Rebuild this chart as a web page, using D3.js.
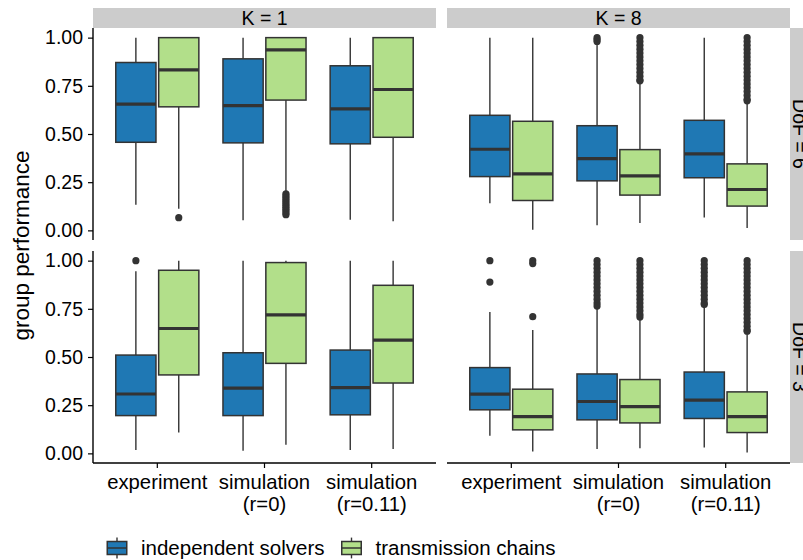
<!DOCTYPE html>
<html>
<head>
<meta charset="utf-8">
<script src="https://cdn.jsdelivr.net/npm/d3@7"></script>
<style>
  body { margin: 0; background: #fff; }
  text { font-family: "Liberation Sans", Arial, Helvetica, sans-serif; fill: #000; }
</style>
</head>
<body>
<div id="chart"></div>
<script>
// ---- data ----
var categories = ["experiment", "simulation\n(r=0)", "simulation\n(r=0.11)"];
var groups = ["independent solvers", "transmission chains"];
var colLabels = ["K = 1", "K = 8"];
var rowLabels = ["DoF = 6", "DoF = 3"];
var yTicks = [0, 0.25, 0.5, 0.75, 1];

// box stats: [lower whisker, q1, median, q3, upper whisker], one per category
var indepDof6K1 = [[0.133, 0.457, 0.655, 0.871, 1.0], [0.052, 0.454, 0.647, 0.890, 1.0], [0.055, 0.449, 0.630, 0.854, 1.0]];
var chainDof6K1 = [[0.112, 0.641, 0.833, 1.0, 1.0], [0.198, 0.676, 0.936, 1.0, 1.0], [0.047, 0.483, 0.731, 1.0, 1.0]];
var indepDof6K8 = [[0.141, 0.279, 0.421, 0.597, 1.0], [0.026, 0.257, 0.372, 0.543, 0.974], [0.067, 0.273, 0.397, 0.571, 1.0]];
var chainDof6K8 = [[0.003, 0.155, 0.293, 0.566, 1.0], [0.038, 0.183, 0.283, 0.419, 0.759], [0.012, 0.126, 0.212, 0.345, 0.660]];
var indepDof3K1 = [[0.017, 0.196, 0.308, 0.510, 0.945], [0.014, 0.196, 0.338, 0.522, 1.0], [0.017, 0.200, 0.341, 0.536, 1.0]];
var chainDof3K1 = [[0.108, 0.407, 0.648, 0.950, 1.0], [0.045, 0.467, 0.719, 0.990, 1.0], [0.022, 0.365, 0.588, 0.872, 1.0]];
var indepDof3K8 = [[0.091, 0.226, 0.307, 0.445, 0.734], [0.022, 0.174, 0.269, 0.412, 0.750], [0.031, 0.181, 0.276, 0.422, 0.760]];
var chainDof3K8 = [[0.010, 0.122, 0.191, 0.333, 0.640], [0.027, 0.158, 0.243, 0.383, 0.700], [0.005, 0.108, 0.191, 0.319, 0.620]];

// outliers, one list per category
var outIndepDof6K1 = [[], [], []];
var outChainDof6K1 = [[0.066], [0.19, 0.18, 0.17, 0.16, 0.15, 0.14, 0.13, 0.12, 0.11, 0.10, 0.09, 0.081], []];
var outIndepDof6K8 = [[], [1.0, 0.99, 0.98], []];
var outChainDof6K8 = [[], [1.0, 0.98, 0.96, 0.94, 0.92, 0.90, 0.88, 0.86, 0.84, 0.82, 0.80, 0.78, 0.776],
                      [1.0, 0.98, 0.96, 0.94, 0.92, 0.90, 0.88, 0.86, 0.84, 0.82, 0.80, 0.78, 0.76, 0.74, 0.72, 0.70, 0.68, 0.672]];
var outIndepDof3K1 = [[1.0], [], []];
var outChainDof3K1 = [[], [], []];
var outIndepDof3K8 = [[1.0, 0.889],
                      [1.0, 0.98, 0.96, 0.94, 0.92, 0.90, 0.88, 0.86, 0.84, 0.82, 0.80, 0.78, 0.764],
                      [1.0, 0.98, 0.96, 0.94, 0.92, 0.90, 0.88, 0.86, 0.84, 0.82, 0.80, 0.78, 0.772]];
var outChainDof3K8 = [[1.0, 0.985, 0.709],
                      [1.0, 0.98, 0.96, 0.94, 0.92, 0.90, 0.88, 0.86, 0.84, 0.82, 0.80, 0.78, 0.76, 0.74, 0.72, 0.707],
                      [1.0, 0.98, 0.96, 0.94, 0.92, 0.90, 0.88, 0.86, 0.84, 0.82, 0.80, 0.78, 0.76, 0.74, 0.72, 0.70, 0.68, 0.66, 0.64, 0.634]];

// panels[row][col]
var panels = [
    [{stats: [indepDof6K1, chainDof6K1], out: [outIndepDof6K1, outChainDof6K1]},
     {stats: [indepDof6K8, chainDof6K8], out: [outIndepDof6K8, outChainDof6K8]}],
    [{stats: [indepDof3K1, chainDof3K1], out: [outIndepDof3K1, outChainDof3K1]},
     {stats: [indepDof3K8, chainDof3K8], out: [outIndepDof3K8, outChainDof3K8]}]
];

var fills = ["#1f78b4", "#b2df8a"];
var lineCol = "#333333";

var width = 803, height = 560;
var panelX = [93, 447], panelY = [28, 251];
var panelW = 343, panelH = 212, stripH = 20;

var svg = d3.select("#chart").append("svg")
    .attr("width", width).attr("height", height);

var x = d3.scaleBand().domain(categories).range([0, panelW])
    .paddingInner(0).paddingOuter(0.1);
var y = d3.scaleLinear().domain([-0.05, 1.05]).range([panelH, 0]);
var step = x.step(),
    boxW = step * 0.375,
    dodge = step * 0.2;

panels.forEach(function(row, ri) {
    row.forEach(function(p, ci) {
        var g = svg.append("g")
            .attr("transform", "translate(" + panelX[ci] + "," + panelY[ri] + ")");

        p.stats.forEach(function(series, gi) {
            series.forEach(function(s, k) {
                var cx = x(categories[k]) + step / 2 + (gi === 0 ? -dodge : dodge);
                var bg = g.append("g");
                // whiskers
                bg.append("line")
                    .attr("x1", cx).attr("x2", cx)
                    .attr("y1", y(s[0])).attr("y2", y(s[1]))
                    .attr("stroke", lineCol).attr("stroke-width", 1.4);
                bg.append("line")
                    .attr("x1", cx).attr("x2", cx)
                    .attr("y1", y(s[3])).attr("y2", y(s[4]))
                    .attr("stroke", lineCol).attr("stroke-width", 1.4);
                bg.append("rect")
                    .attr("x", cx - boxW / 2).attr("width", boxW)
                    .attr("y", y(s[3])).attr("height", y(s[1]) - y(s[3]))
                    .attr("fill", fills[gi])
                    .attr("stroke", lineCol).attr("stroke-width", 1.5);
                bg.append("line")
                    .attr("x1", cx - boxW / 2).attr("x2", cx + boxW / 2)
                    .attr("y1", y(s[2])).attr("y2", y(s[2]))
                    .attr("stroke", lineCol).attr("stroke-width", 3.2);
                // outliers
                bg.selectAll("circle").data(p.out[gi][k]).enter()
                    .append("circle")
                    .attr("cx", cx).attr("cy", function(d) { return y(d); })
                    .attr("r", 3.6)
                    .attr("fill", lineCol);
            });
        });

        // y axis on the left column only
        if (ci === 0) {
            var ya = g.append("g")
                .call(d3.axisLeft(y).tickValues(yTicks).tickSize(5).tickPadding(5)
                    .tickFormat(d3.format(".2f")));
            ya.select(".domain").attr("stroke", "#000").attr("stroke-width", 1.4)
                .attr("d", "M0,0V" + panelH);
            ya.selectAll(".tick line").attr("stroke", "#000").attr("stroke-width", 1.2);
            ya.selectAll(".tick text").attr("font-size", "19.5px")
                .style("font-family", "Liberation Sans, Arial, sans-serif").attr("fill", "#000");
        }
        // x axis on the bottom row only
        if (ri === 1) {
            var xa = g.append("g").attr("transform", "translate(0," + panelH + ")")
                .call(d3.axisBottom(x).tickSize(5).tickFormat(""));
            xa.select(".domain").attr("stroke", "#000").attr("stroke-width", 1.4)
                .attr("d", "M0,0H" + panelW);
            xa.selectAll(".tick line").attr("stroke", "#000").attr("stroke-width", 1.2);
            xa.selectAll(".tick").each(function(d) {
                var lines = d.split("\n");
                var t = d3.select(this).append("text")
                    .attr("text-anchor", "middle")
                    .attr("font-size", "20.3px")
                    .attr("fill", "#000");
                lines.forEach(function(l, li) {
                    t.append("tspan").attr("x", 0).attr("y", 26 + li * 22).text(l);
                });
            });
        }
        // top strips
        if (ri === 0) {
            svg.append("rect")
                .attr("x", panelX[ci]).attr("y", panelY[0] - stripH)
                .attr("width", panelW).attr("height", stripH)
                .attr("fill", "#cccccc");
            svg.append("text")
                .attr("x", panelX[ci] + panelW / 2).attr("y", panelY[0] - stripH / 2)
                .attr("dy", "0.36em").attr("text-anchor", "middle")
                .attr("font-size", "19.5px").attr("fill", "#1a1a1a")
                .text(colLabels[ci]);
        }
        // right strips (cut by the page edge, as in the original)
        if (ci === 1) {
            var sx = panelX[1] + panelW;
            svg.append("rect")
                .attr("x", sx).attr("y", panelY[ri])
                .attr("width", stripH).attr("height", panelH)
                .attr("fill", "#cccccc");
            svg.append("text")
                .attr("transform", "translate(" + (sx + stripH / 2) + "," + (panelY[ri] + panelH / 2) + ") rotate(90)")
                .attr("dy", "0.36em").attr("text-anchor", "middle")
                .attr("font-size", "19.5px").attr("fill", "#1a1a1a")
                .text(rowLabels[ri]);
        }
    });
});

// y title
svg.append("text")
    .attr("transform", "translate(29," + ((panelY[0] + panelY[1] + panelH) / 2) + ") rotate(-90)")
    .attr("text-anchor", "middle")
    .attr("font-size", "22.5px")
    .text("group performance");

// legend
var legend = svg.append("g").attr("transform", "translate(104,535)");
var lx = 0, keyS = 26;
groups.forEach(function(name, i) {
    var kg = legend.append("g").attr("transform", "translate(" + lx + ",0)");
    kg.append("line").attr("x1", keyS / 2).attr("x2", keyS / 2)
        .attr("y1", keyS * 0.1).attr("y2", keyS * 0.9)
        .attr("stroke", lineCol).attr("stroke-width", 1.4);
    kg.append("rect")
        .attr("x", keyS * 0.125).attr("y", keyS * 0.25)
        .attr("width", keyS * 0.75).attr("height", keyS * 0.5)
        .attr("fill", fills[i]).attr("stroke", lineCol).attr("stroke-width", 1.5);
    kg.append("line").attr("x1", keyS * 0.125).attr("x2", keyS * 0.875)
        .attr("y1", keyS / 2).attr("y2", keyS / 2)
        .attr("stroke", lineCol).attr("stroke-width", 1.5);
    var t = kg.append("text")
        .attr("x", keyS + 11).attr("y", keyS / 2).attr("dy", "0.36em")
        .attr("font-size", "20.5px")
        .text(name);
    lx += keyS + 11 + t.node().getComputedTextLength() + 14;
});
</script>
</body>
</html>
